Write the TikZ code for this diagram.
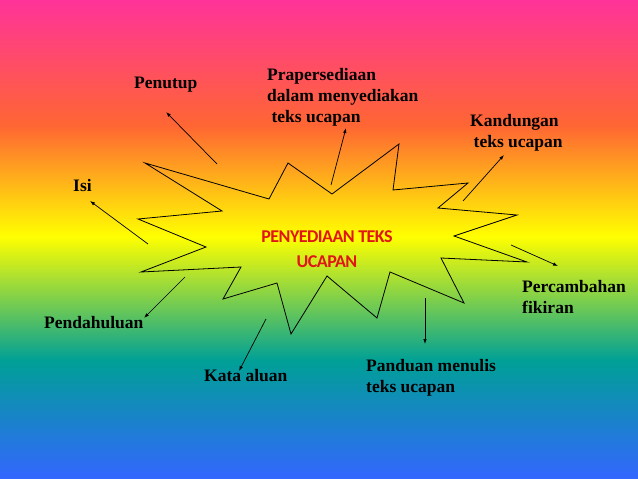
\documentclass[tikz,border=0pt]{standalone}
\usepackage{fontspec}
\setmainfont{Liberation Serif}
\newfontfamily\titlefont[LetterSpace=-3]{Carlito}
\usetikzlibrary{arrows.meta, positioning}
\definecolor{bgpink}{HTML}{FF3399}
\definecolor{bgorange}{HTML}{FF6633}
\definecolor{bgyellow}{HTML}{FFFF00}
\definecolor{bgteal}{HTML}{00A096}
\definecolor{bgblue}{HTML}{3366FF}
\definecolor{titlered}{HTML}{E01515}
\pgfdeclareverticalshading{rainbow}{100bp}{color(0bp)=(bgblue); color(25bp)=(bgblue); color(37.4bp)=(bgteal); color(50.3bp)=(bgyellow); color(61.9bp)=(bgorange); color(75bp)=(bgpink); color(100bp)=(bgpink)}

\begin{document}
\begin{tikzpicture}[x=1pt,y=-1pt,>={Latex[length=5pt,width=3.5pt]},
        lbl/.style={font=\bfseries\fontsize{17.5}{21}\selectfont, inner sep=0pt, anchor=base west, align=left},
        title/.style={font=\titlefont\bfseries\fontsize{18}{24.5}\selectfont, text=titlered, inner sep=0pt, anchor=base, align=center}]
        \useasboundingbox (0,0) rectangle (638,479);
        \shade[shading=rainbow] (0,0) rectangle (638,479);

        \draw[line width=0.8pt] (145,163) -- (269,199) -- (288,163) -- (332,194) -- (399,144) -- (393,190)
        -- (468,183) -- (438,208) -- (517,215) -- (454,236) -- (527,262) -- (441,258)
        -- (464,303) -- (390,272) -- (377,318) -- (327,276) -- (291,334) -- (277,283)
        -- (223,299) -- (241,267) -- (141,272) -- (206,247) -- (138,219) -- (222,211) -- cycle;

        \node[title]   (title)        at (327,267)     {PENYEDIAAN TEKS\\UCAPAN};

        \node[lbl]   (penutup)        at (134,88)      {Penutup};
        \node[lbl]   (prep)           at (267,122)     {Prapersediaan\\dalam menyediakan\\\hspace*{.25em}teks ucapan};
        \node[lbl]   (kandungan)      at (470,147)     {Kandungan\\\hspace*{.2em}teks ucapan};
        \node[lbl]   (isi)            at (73,191)      {Isi};
        \node[lbl]   (percambahan)    at (522,313)     {Percambahan\\fikiran};
        \node[lbl]   (pendahuluan)    at (44,328)      {Pendahuluan};
        \node[lbl]   (kata)           at (204,381)     {Kata aluan};
        \node[lbl]   (panduan)        at (366,392)     {Panduan menulis\\teks ucapan};

        \coordinate (penutup-a) at (217,164);       \coordinate (penutup-b) at (166,112);
        \coordinate (prep-a) at (331,185);          \coordinate (prep-b) at (346,128);
        \coordinate (kandungan-a) at (463,201);     \coordinate (kandungan-b) at (504,155);
        \coordinate (isi-a) at (148,244);           \coordinate (isi-b) at (90,201);
        \coordinate (percambahan-a) at (511,245);   \coordinate (percambahan-b) at (558,266);
        \coordinate (pendahuluan-a) at (185,277);   \coordinate (pendahuluan-b) at (144,318);
        \coordinate (kata-a) at (266,319);          \coordinate (kata-b) at (239,371);
        \coordinate (panduan-a) at (425,298);       \coordinate (panduan-b) at (425,344);

        \path[->, line width=0.7pt]   (penutup-a) edge (penutup-b)
        (prep-a) edge (prep-b)
        (kandungan-a) edge (kandungan-b)
        (isi-a) edge (isi-b)
        (percambahan-a) edge (percambahan-b)
        (pendahuluan-a) edge (pendahuluan-b)
        (kata-a) edge (kata-b)
        (panduan-a) edge (panduan-b)
        ;
    \end{tikzpicture}
\end{document}
